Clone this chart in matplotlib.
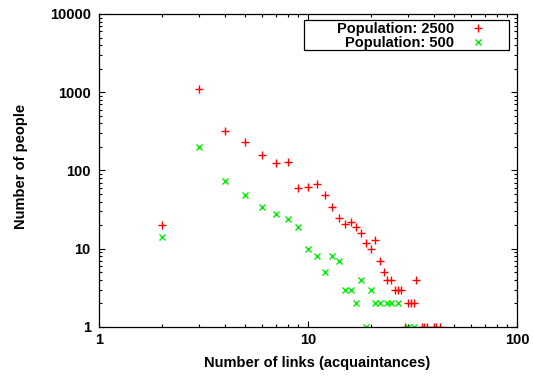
import matplotlib
matplotlib.use("Agg")
import matplotlib.pyplot as plt
from matplotlib.patches import Rectangle
from matplotlib.ticker import LogLocator, NullFormatter, FixedLocator, FixedFormatter

plt.rcParams['font.family'] = ['Liberation Sans', 'DejaVu Sans']
plt.rcParams['font.weight'] = 'bold'

# Population 2500 (red +)
links_2500 = [2, 3, 4, 5, 6, 7, 8, 9, 10, 11, 12, 13, 14, 15, 16, 17, 18, 19, 20, 21,
              22, 23, 24, 25, 26, 27, 28, 29, 30, 31, 32, 33, 35, 36, 37, 40, 41, 43]
people_2500 = [20, 1100, 320, 230, 160, 125, 130, 59, 61, 67, 48, 34, 25, 21, 22, 19, 16, 12, 10, 13,
               7, 5, 4, 4, 3, 3, 3, 1, 2, 2, 2, 4, 1, 1, 1, 1, 1, 1]

# Population 500 (green x)
links_500 = [2, 3, 4, 5, 6, 7, 8, 9, 10, 11, 12, 13, 14, 15, 16, 17, 18, 19, 20, 21,
             22, 24, 25, 27, 30, 32]
people_500 = [14, 200, 74, 48, 34, 28, 24, 19, 10, 8, 5, 8, 7, 3, 3, 2, 4, 1, 3, 2,
              2, 2, 2, 2, 1, 1]

x_ticks = [1, 10, 100]
x_tick_labels = ['1', '10', '100']
y_ticks = [1, 10, 100, 1000, 10000]
y_tick_labels = ['1', '10', '100', '1000', '10000']

FS = 10.5

fig = plt.figure(figsize=(5.33, 3.76), dpi=100)
ax = fig.add_axes([99/533, 1-327/376, (517-99)/533, (327-14)/376])

ax.plot(links_2500, people_2500, linestyle='none', marker='+', color='#ff0000',
        markersize=6, markeredgewidth=1.0, label='Population: 2500')
ax.plot(links_500, people_500, linestyle='none', marker='x', color='#00ee00',
        markersize=5, markeredgewidth=1.0, label='Population: 500')

ax.set_xscale('log')
ax.set_yscale('log')
ax.set_xlim(1, 100)
ax.set_ylim(1, 10000)

ax.xaxis.set_major_locator(FixedLocator(x_ticks))
ax.xaxis.set_major_formatter(FixedFormatter(x_tick_labels))
ax.yaxis.set_major_locator(FixedLocator(y_ticks))
ax.yaxis.set_major_formatter(FixedFormatter(y_tick_labels))
ax.xaxis.set_minor_locator(LogLocator(base=10, subs=range(2, 10)))
ax.yaxis.set_minor_locator(LogLocator(base=10, subs=range(2, 10)))
ax.xaxis.set_minor_formatter(NullFormatter())
ax.yaxis.set_minor_formatter(NullFormatter())

ax.tick_params(which='both', direction='in', top=True, right=True, width=0.8, colors='black')
ax.tick_params(which='major', length=4.0, labelsize=FS)
ax.tick_params(axis='x', which='major', pad=4)
ax.tick_params(axis='y', which='major', pad=6)
ax.tick_params(which='minor', length=2.0)
for lab in ax.get_xticklabels() + ax.get_yticklabels():
    lab.set_fontweight('bold')
for s in ax.spines.values():
    s.set_linewidth(0.9)

ax.set_xlabel('Number of links (acquaintances)', fontsize=FS, fontweight='bold')
ax.set_ylabel('Number of people', fontsize=FS, fontweight='bold')
ax.xaxis.set_label_coords((316.7-99)/418, (327-355.5)/313)
ax.yaxis.set_label_coords((28-99)/418, (327-166.7)/313)

leg = ax.legend(loc='upper right', bbox_to_anchor=(485.3/533, 1-21.8/376),
                bbox_transform=fig.transFigure, frameon=False, markerfirst=False,
                borderpad=0, borderaxespad=0, handlelength=1.0, handletextpad=1.14,
                labelspacing=0.0, prop={'size': FS, 'weight': 'bold'})
fig.add_artist(Rectangle((304/533, 1-49.5/376), (508.5-304)/533, 30/376,
                         transform=fig.transFigure, fill=False, edgecolor='black',
                         linewidth=0.9))

fig.savefig('out.png', dpi=100)
